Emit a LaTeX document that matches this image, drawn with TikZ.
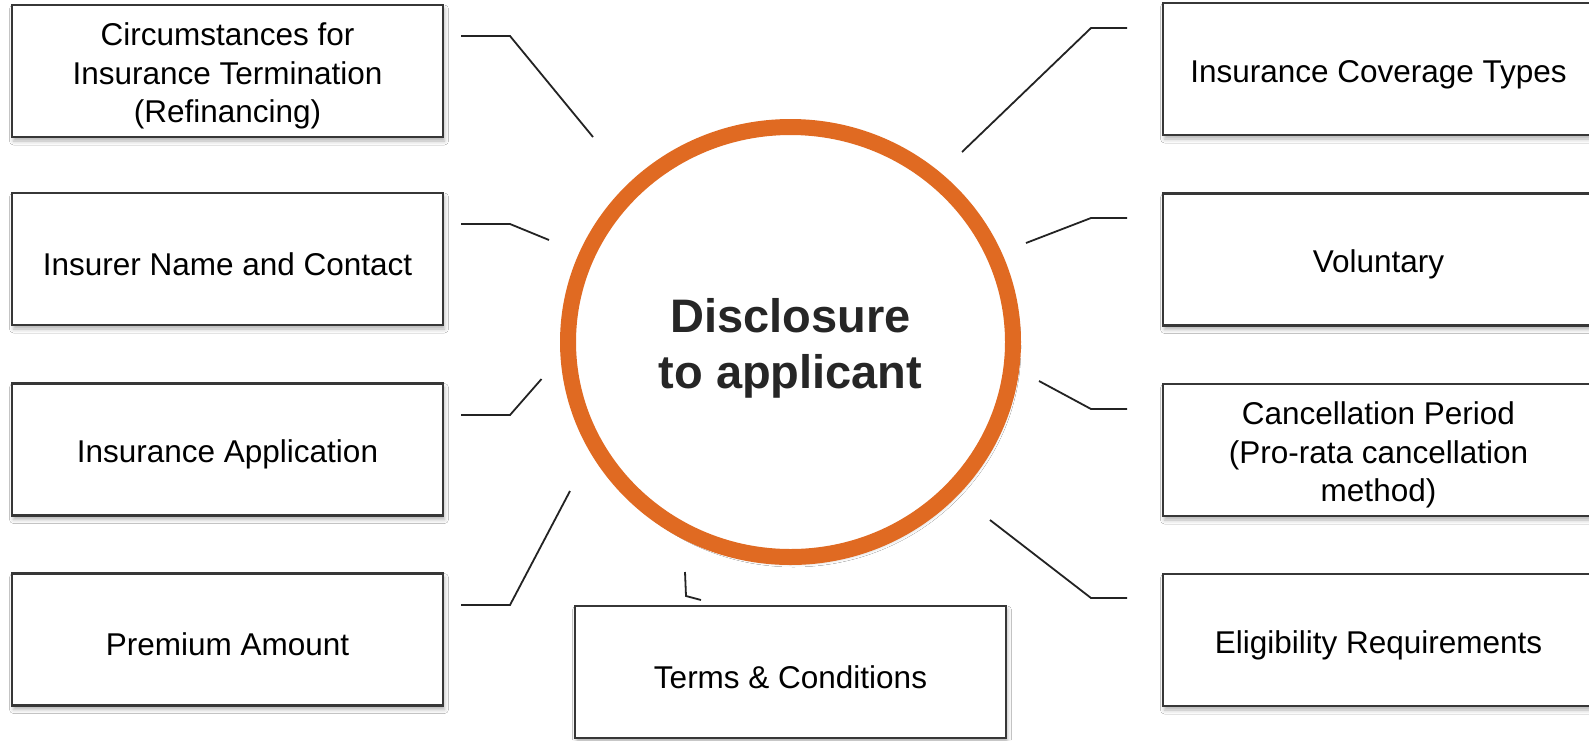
\documentclass[tikz,border=0pt]{standalone}
\usepackage{fontspec}
\setmainfont{Liberation Sans}
\usetikzlibrary{shapes.geometric,shadows.blur}
\definecolor{ringorange}{RGB}{224,106,34}
\definecolor{boxline}{RGB}{55,55,55}
\definecolor{linkline}{RGB}{35,35,35}
\definecolor{hubtext}{RGB}{38,38,38}
\newcommand{\firststrut}{\rule{0pt}{33pt}}
\begin{document}
\begin{tikzpicture}[x=1pt,y=-1pt,
  infobox/.style={draw=boxline, line width=2.2pt, fill=white,
    minimum width=431pt, minimum height=132pt, inner sep=0pt,
    align=center, font=\fontsize{31.5}{38.5}\selectfont,
    blur shadow={shadow xshift=1.5pt, shadow yshift=-4pt,
      shadow blur radius=4pt, shadow opacity=30}},
  hub/.style={ellipse, draw=ringorange, line width=16pt, fill=white,
    minimum width=445pt, minimum height=430pt, inner sep=0pt,
    blur shadow={shadow xshift=3pt, shadow yshift=-5pt,
      shadow blur radius=5pt, shadow opacity=35}},
  hublabel/.style={align=center, text=hubtext,
    font=\fontsize{47}{56}\selectfont\bfseries, inner sep=0pt},
  link/.style={draw=linkline, line width=1.8pt, line join=miter}
]
\useasboundingbox[fill=white] (0,0) rectangle (1589,740);

% centre
\node[hub] (hub) at (790.5,342) {};
\node[hublabel] (hubtxt) at ([yshift=-6pt]hub.center) {Disclosure\\to applicant};

% left boxes
\node[infobox] (L1) at (227.5,71)  {\firststrut Circumstances for\\Insurance Termination\\(Refinancing)};
\node[infobox] (L2) at (227.5,259) {\firststrut Insurer Name and Contact};
\node[infobox] (L3) at (227.5,449.5) {\firststrut Insurance Application};
\node[infobox] (L4) at (227.5,639.5) {\firststrut Premium Amount};

% right boxes
\node[infobox] (R1) at (1378.5,69)  {\firststrut Insurance Coverage Types};
\node[infobox] (R2) at (1378.5,259.5) {\firststrut Voluntary};
\node[infobox] (R3) at (1378.5,450) {\firststrut Cancellation Period\\(Pro-rata cancellation\\method)};
\node[infobox] (R4) at (1378.5,640) {\firststrut Eligibility Requirements};

% bottom box
\node[infobox] (B) at (790.5,672) {\firststrut Terms \& Conditions};

% connector points
\coordinate (l1a) at (461,36);   \coordinate (l1b) at (510,36);   \coordinate (l1c) at (593,137);
\coordinate (l2a) at (461,224);  \coordinate (l2b) at (510,224);  \coordinate (l2c) at (549,240);
\coordinate (l3a) at (461,415);  \coordinate (l3b) at (510,415);  \coordinate (l3c) at (541.5,379);
\coordinate (l4a) at (461,605);  \coordinate (l4b) at (510,605);  \coordinate (l4c) at (570,491);
\coordinate (r1a) at (1127,28);  \coordinate (r1b) at (1091,28);  \coordinate (r1c) at (962,152);
\coordinate (r2a) at (1127,218); \coordinate (r2b) at (1091,218); \coordinate (r2c) at (1026,243);
\coordinate (r3a) at (1127,409); \coordinate (r3b) at (1091,409); \coordinate (r3c) at (1039,381);
\coordinate (r4a) at (1127,598); \coordinate (r4b) at (1091,598); \coordinate (r4c) at (990,520);
\coordinate (b1a) at (685,572);  \coordinate (b1b) at (686,596);  \coordinate (b1c) at (701,600);

\draw[link] (l1a) -- (l1b) -- (l1c);
\draw[link] (l2a) -- (l2b) -- (l2c);
\draw[link] (l3a) -- (l3b) -- (l3c);
\draw[link] (l4a) -- (l4b) -- (l4c);
\draw[link] (r1a) -- (r1b) -- (r1c);
\draw[link] (r2a) -- (r2b) -- (r2c);
\draw[link] (r3a) -- (r3b) -- (r3c);
\draw[link] (r4a) -- (r4b) -- (r4c);
\draw[link] (b1a) -- (b1b) -- (b1c);
\end{tikzpicture}
\end{document}
